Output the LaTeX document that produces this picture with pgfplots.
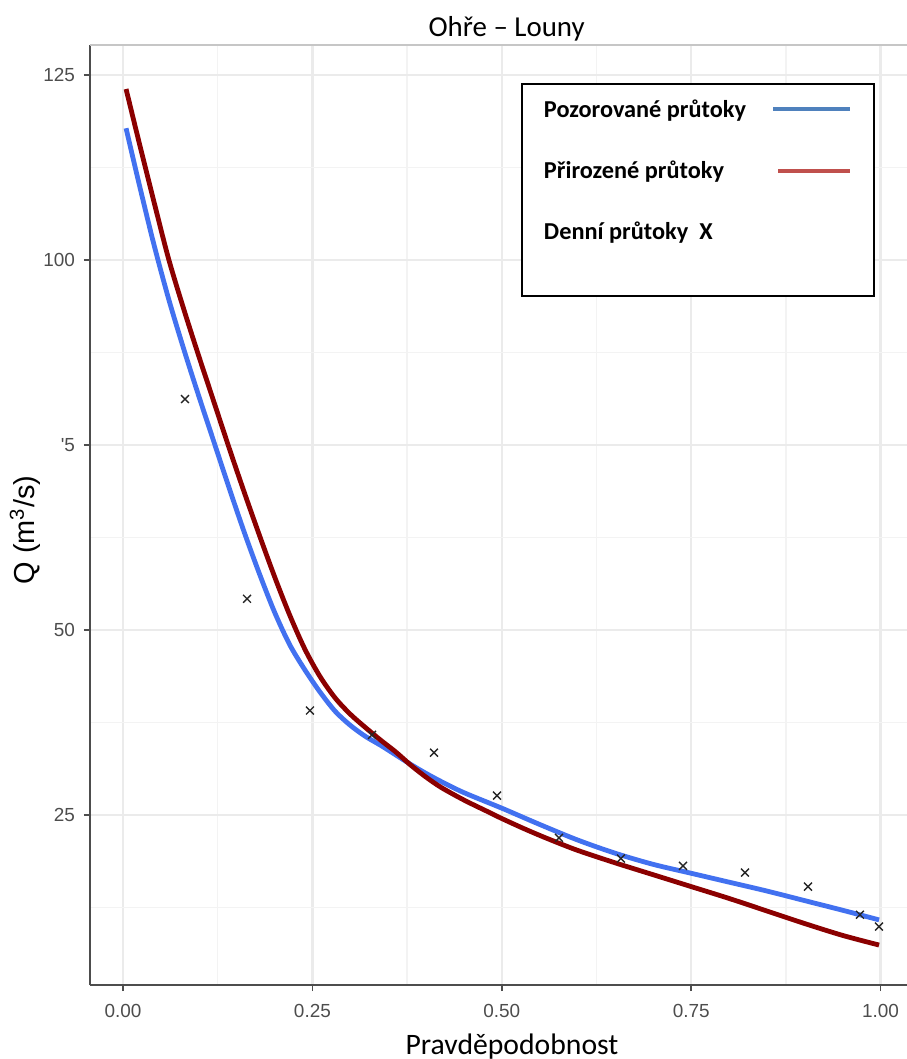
\documentclass[border=0pt]{standalone}
\usepackage{pgfplots}
\pgfplotsset{compat=1.18}
\usepackage{fontspec}
\setmainfont{Carlito}
\newfontfamily\arialf{Liberation Sans}
\definecolor{obsblue}{RGB}{66,113,240}
\definecolor{natred}{RGB}{139,0,0}
\definecolor{legblue}{RGB}{79,129,189}
\definecolor{legred}{RGB}{192,80,77}
\definecolor{tickgray}{RGB}{77,77,77}
\definecolor{gridmaj}{RGB}{235,235,235}
\definecolor{gridmin}{RGB}{243,243,243}
\pgfplotstableread{
x y
0.004 117.8
0.020 110.8
0.040 102.4
0.060 94.8
0.080 88.0
0.100 81.6
0.120 75.4
0.140 69.2
0.160 63.2
0.180 57.6
0.200 52.4
0.220 48.0
0.240 44.6
0.260 41.6
0.280 39.0
0.300 37.1
0.320 35.6
0.340 34.4
0.360 33.1
0.380 31.8
0.400 30.6
0.420 29.5
0.450 28.0
0.500 25.9
0.550 23.7
0.600 21.6
0.650 19.8
0.700 18.3
0.750 17.1
0.800 15.9
0.850 14.7
0.900 13.4
0.950 12.1
0.998 10.8
}\observed
\pgfplotstableread{
x y
0.004 123.1
0.020 116.4
0.040 108.2
0.060 100.2
0.080 93.4
0.100 87.0
0.120 80.8
0.140 74.6
0.160 68.6
0.180 62.8
0.200 57.2
0.220 52.0
0.240 47.4
0.260 43.7
0.280 40.8
0.300 38.6
0.320 36.8
0.340 35.1
0.360 33.5
0.380 31.7
0.400 30.1
0.420 28.7
0.450 27.0
0.480 25.5
0.500 24.5
0.530 23.1
0.560 21.8
0.600 20.2
0.650 18.5
0.700 16.9
0.750 15.3
0.800 13.7
0.850 12.0
0.900 10.3
0.950 8.7
0.998 7.4
}\natural
\pgfplotstableread{
x y
0.0818 81.2
0.1637 54.2
0.2468 39.1
0.3287 35.8
0.4105 33.4
0.4937 27.6
0.5755 21.9
0.6573 19.1
0.7392 18.1
0.8210 17.2
0.9042 15.3
0.9728 11.5
0.9979 9.9
}\daily
\begin{document}
\begin{tikzpicture}
\begin{axis}[
  at={(0,0)}, anchor=south west,
  scale only axis, width=408.5bp, height=470bp,
  xmin=-0.0436, xmax=1.0349, ymin=2.0, ymax=129.05,
  xtick={0,0.25,0.5,0.75,1}, xticklabels={0.00,0.25,0.50,0.75,1.00},
  ytick={25,50,75,100,125}, yticklabels={25,50,'5,100,125},
  minor xtick={0.125,0.375,0.625,0.875},
  minor ytick={12.5,37.5,62.5,87.5,112.5},
  grid=both,
  major grid style={draw=gridmaj, line width=1.1bp},
  minor grid style={draw=gridmin, line width=0.7bp},
  minor tick length=0pt,
  tick pos=left, tick align=outside, major tick length=3bp,
  tick style={draw=tickgray, line width=0.8bp},
  axis line style={draw=none},
  ticklabel style={font=\arialf\fontsize{9.5}{11}\selectfont, text=tickgray},
  xticklabel style={yshift=-3bp},
  yticklabel style={xshift=-1bp},
  clip=false,
  title={Ohře – Louny},
  title style={font=\fontsize{14.5}{17}\selectfont, at={(axis description cs:0.51,1)}, anchor=base, yshift=-1.5bp},
  xlabel={Pravděpodobnost},
  xlabel style={font=\fontsize{14.9}{17}\selectfont, at={(axis description cs:0.5165,0)}, anchor=base, yshift=-34.5bp},
  ylabel={Q (m\textsuperscript{3}/s)},
  ylabel style={font=\arialf\fontsize{14.5}{16}\selectfont, at={(axis description cs:-0.0796,0.484)}, anchor=center},
  legend plot pos=right,
  legend style={at={(axis description cs:0.5275,0.9596)}, anchor=north west,
    draw=black, line width=1bp, fill=white,
    inner xsep=11bp, inner ysep=7.85bp, row sep=20.5bp, column sep=12.5bp,
    cells={anchor=base west},
    nodes={inner sep=0pt, text height=9bp, text depth=1bp, font=\bfseries\fontsize{12.2}{14}\selectfont}},
]
\addplot[obsblue, line width=2.4bp, smooth, forget plot] table[x=x,y=y] {\observed};
\addplot[natred, line width=2.4bp, smooth, forget plot] table[x=x,y=y] {\natural};
\addplot[only marks, mark=x, mark size=2.8bp, black!85, line width=0.7bp, forget plot] table[x=x,y=y] {\daily};
\draw[tickgray, line width=1bp] (rel axis cs:0,0) -- (rel axis cs:0,1);
\draw[tickgray, line width=1bp] (rel axis cs:0,0) -- (rel axis cs:1,0);
\draw[gray!45, line width=0.8bp] (rel axis cs:0,1) -- (rel axis cs:1,1);
\addlegendimage{legend image code/.code={\draw[legblue, line width=2bp] (0bp,4.2bp) -- (38.5bp,4.2bp);}}
\addlegendentry{Pozorované průtoky}
\addlegendimage{legend image code/.code={\draw[legred, line width=2bp] (2.5bp,3.8bp) -- (38.5bp,3.8bp);}}
\addlegendentry{Přirozené průtoky}
\addlegendimage{empty legend}
\addlegendentry[text depth=20.5bp]{Denní průtoky\ \ X}
\end{axis}
\pgfresetboundingbox
\path[use as bounding box] (-45bp,-37bp) rectangle (408.5bp,492.5bp);
\end{tikzpicture}
\end{document}
